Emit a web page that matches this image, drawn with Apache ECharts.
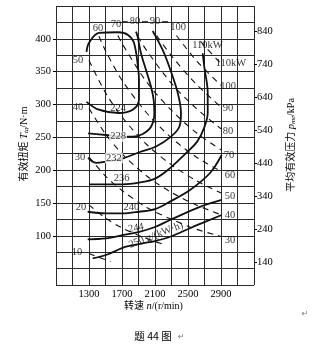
<!DOCTYPE html>
<html><head><meta charset="utf-8">
<script src="https://cdn.jsdelivr.net/npm/echarts@6/dist/echarts.min.js"></script>
<style>html,body{margin:0;padding:0;background:#fff}#c{width:312px;height:355px}</style>
</head><body><div id="c"></div>
<script>
// ---- tick labels ----
const rpmTicks = [1300, 1700, 2100, 2500, 2900];
const torqueTicks = [100, 150, 200, 250, 300, 350, 400];
const pmeTicks = [140, 240, 340, 440, 540, 640, 740, 840];

// ---- BSFC contours g/(kW·h): [rpm, torque N·m] ----
const bsfc224 = [[1270,304],[1420,292],[1660,287],[1830,292],[1905,307],[1906,337],[1894,357],[1845,394],[1773,406],[1652,410],[1421,409],[1300,394],[1270,380]];
const bsfc228 = [[1288,256],[1506,253.5],[1708,251],[1830,251],[1951,255],[2052,266],[2092,286.5],[2084,307],[2052,327],[1991,352.5],[1930,378],[1890,403],[1870,411]];
const bsfc232 = [[1288,218.5],[1385,211],[1506,213],[1712,218],[1918,227.6],[2112,236],[2294,251],[2395,266],[2415,286.5],[2395,307],[2355,327],[2273,357.5],[2193,383],[2112,403],[2072,412]];
const bsfc236 = [[1300,178.4],[1712,178.4],[1906,181],[2100,187],[2282,203],[2464,224.5],[2609,243],[2694,264],[2739,287],[2739,317.5],[2698,357],[2678,378]];
const bsfc240 = [[1284,136.6],[1506,134],[1708,134],[1906,136.6],[2100,140.7],[2282,152],[2524,169.7],[2767,195.6],[2908,223]];
const bsfc244 = [[1284,94.6],[1506,96.1],[1708,101],[1910,106],[2100,113.3],[2282,124],[2645,144],[2908,154.5]];
const bsfc250 = [[1345,65.6],[1506,70.7],[1748,83.3],[1951,88.5],[2100,92],[2282,98.5],[2564,113.8],[2908,131.6]];

// ---- equal-power lines kW: [rpm, torque] ----
const pow10 = [[1300,73],[1420,67],[1560,61]];
const pow20 = [[1300,147],[1500,127],[1700,112],[1950,98],[2200,87]];
const pow30 = [[1300,220],[1500,191],[1700,169],[2000,143],[2300,125],[2600,110],[2900,99]];
const pow40 = [[1300,294],[1500,255],[1700,225],[2000,191],[2300,166],[2600,147],[2900,132]];
const pow50 = [[1300,367],[1500,318],[1700,281],[2000,239],[2300,208],[2600,184],[2900,165]];
const pow60 = [[1420,404],[1500,382],[1700,337],[2000,287],[2300,249],[2600,220],[2900,198]];
const pow70 = [[1650,405],[1700,393],[2000,334],[2300,291],[2600,257],[2900,231]];
const pow80 = [[1890,404],[2000,382],[2300,332],[2600,294],[2900,263]];
const pow90 = [[2120,405],[2300,374],[2600,331],[2900,296]];
const pow100 = [[2360,405],[2600,367],[2900,329]];
const pow110 = [[2650,396],[2900,362]];
const topDash = [[1700,426],[2280,426]];

// ---- annotations: [rpm, torque, text] ----
const powerLabels = [
  [1167,367.7,'50'],[1167,296,'40'],[1191,220,'30'],[1203,144,'20'],[1155,74.5,'10'],
  [1409,416.5,'60'],[1627,422.6,'70'],[1858,427,'80'],[2100,427,'90'],[2379,418,'100'],[2736,390.6,'110kW'],
  [3021,362.4,'110kW'],[2985,327,'100'],[2985,294.6,'90'],[2985,258.5,'80'],[2997,223,'70'],
  [3009,192.5,'60'],[3009,159.5,'50'],[3009,131.6,'40'],[3009,93.5,'30']
];
const bsfcLabels = [[1652,294.5,'224'],[1694,187.5,'236'],[1815,143.3,'240']];
const bsfcOnLineLabels = [[1652,251,'228'],[1603,218.4,'232']];
const bsfc244Label = [[1870,111.8,'244']];
const bsfc250Label = [[2112,101,'250 g/(kW·h)']];

const FONT = '"Liberation Serif", "Noto Sans CJK SC", serif';
const INK = '#000';

const chart = echarts.init(document.getElementById('c'), null, {renderer:'canvas'});

function solid(d){ return {type:'line', data:d, smooth:0.35, showSymbol:false, symbol:'none', silent:true,
  lineStyle:{color:'#111', width:1.8}, z:5}; }
function dashed(d, dash){ return {type:'line', data:d, smooth:0.3, showSymbol:false, symbol:'none', silent:true,
  lineStyle:{color:'#111', width:1.1, type: dash || [6,5]}, z:4}; }
function labels(d, extra, rot){ return {type:'scatter', data:d.map(r=>({value:r})), symbolSize:0, silent:true, z:10,
  label:Object.assign({show:true, position:'inside', formatter:p=>p.value[2], fontFamily:FONT, fontSize:10.5, color:INK, rotate:rot||0}, extra||{})}; }

const series = [
  solid(bsfc224), solid(bsfc228), solid(bsfc232), solid(bsfc236), solid(bsfc240), solid(bsfc244), solid(bsfc250),
  dashed(pow10), dashed(pow20), dashed(pow30), dashed(pow40), dashed(pow50), dashed(pow60),
  dashed(pow70), dashed(pow80), dashed(pow90), dashed(pow100), dashed(pow110), dashed(topDash,[6,14]),
  labels(powerLabels),
  labels(bsfcLabels),
  labels(bsfcOnLineLabels, {backgroundColor:'#fff', padding:[0,1]}),
  labels(bsfc244Label, {}, 10),
  labels(bsfc250Label, {}, 21)
];

const gridLine = {show:true, lineStyle:{color:'#2a2a2a', width:1}};
const hide = {axisLine:{show:false}, axisTick:{show:false}, axisLabel:{show:false}};
const plain = v => String(v);

chart.setOption({
  backgroundColor:'#fff',
  animation:false,
  grid:{left:56, top:6, width:198, height:279},
  xAxis:[
    {type:'value', min:900, max:3300, axisLine:{show:false}, axisTick:{show:false}, splitLine:{show:false},
     axisLabel:{customValues:rpmTicks, formatter:plain, fontFamily:FONT, fontSize:10.5, color:INK, margin:4}},
    Object.assign({type:'value', min:0, max:12, interval:1, position:'top', splitLine:gridLine}, hide)
  ],
  yAxis:[
    {type:'value', min:25, max:450, position:'left', axisLine:{show:false}, splitLine:{show:false},
     axisTick:{show:true, customValues:torqueTicks, length:3, lineStyle:{color:INK}},
     axisLabel:{customValues:torqueTicks, formatter:plain, fontFamily:FONT, fontSize:10.5, color:INK, margin:5}},
    {type:'value', min:71.1, max:918, position:'right', axisLine:{show:false}, splitLine:{show:false},
     axisTick:{show:true, customValues:pmeTicks, length:3, lineStyle:{color:INK}},
     axisLabel:{customValues:pmeTicks, formatter:plain, fontFamily:FONT, fontSize:10.5, color:INK, margin:3}},
    Object.assign({type:'value', min:0, max:17, interval:1, position:'left', splitLine:gridLine}, hide)
  ],
  series: series,
  graphic:[
    {type:'text', x:153.5, y:306.5, silent:true, style:{text:'{c|转速 }{i|n}{c|/(r/min)}', align:'center', verticalAlign:'middle',
      rich:{c:{fontFamily:FONT, fontSize:10, fill:INK}, i:{fontFamily:FONT, fontSize:10.5, fontStyle:'italic', fill:INK}}}},
    {type:'text', x:24, y:144, rotation:Math.PI/2, silent:true, style:{text:'{c|有效扭矩 }{i|T}{s|tq}{c|/N·m}', align:'center', verticalAlign:'middle',
      rich:{c:{fontFamily:FONT, fontSize:10, fill:INK}, i:{fontFamily:FONT, fontSize:10.5, fontStyle:'italic', fill:INK}, s:{fontFamily:FONT, fontSize:7, fontStyle:'italic', fill:INK, padding:[5,0,0,0]}}}},
    {type:'text', x:291, y:145, rotation:Math.PI/2, silent:true, style:{text:'{c|平均有效压力 }{i|p}{s|me}{c|/kPa}', align:'center', verticalAlign:'middle',
      rich:{c:{fontFamily:FONT, fontSize:10, fill:INK}, i:{fontFamily:FONT, fontSize:10.5, fontStyle:'italic', fill:INK}, s:{fontFamily:FONT, fontSize:7, fontStyle:'italic', fill:INK, padding:[5,0,0,0]}}}},
    {type:'text', x:153, y:336, silent:true, style:{text:'题 44 图', align:'center', verticalAlign:'middle', font:'10.5px "Noto Sans CJK SC", sans-serif', fill:'#000'}},
    {type:'text', x:178, y:337, silent:true, style:{text:'↵', align:'left', verticalAlign:'middle', font:'8px "DejaVu Sans"', fill:'#777'}},
    {type:'text', x:305, y:314, silent:true, style:{text:'↵', align:'center', verticalAlign:'middle', font:'8px "DejaVu Sans"', fill:'#777'}}
  ]
});
</script></body></html>
